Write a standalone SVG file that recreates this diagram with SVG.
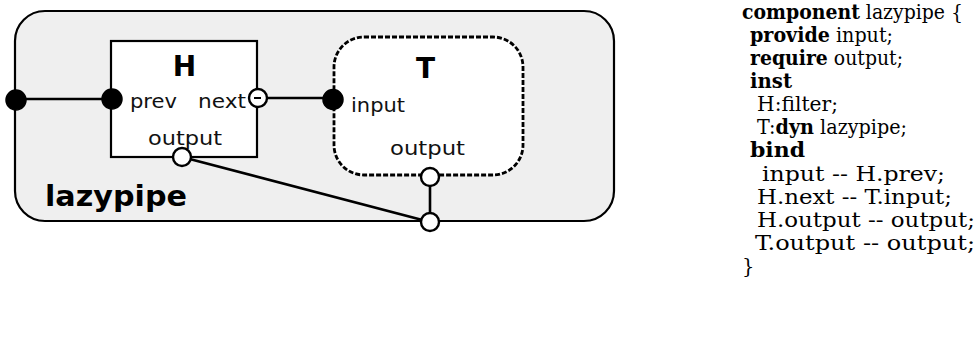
<svg xmlns="http://www.w3.org/2000/svg" width="979" height="353" viewBox="0 0 979 353">
  <style>
    .box { stroke: #000; stroke-width: 2.2; }
    .wire { stroke: #000; stroke-width: 2.6; fill: none; }
    .provided { fill: #000; stroke: #000; stroke-width: 1.5; }
    .required { fill: #fff; stroke: #000; stroke-width: 2.4; }
    .label { font-family: "DejaVu Sans", "Liberation Sans", sans-serif; font-size: 20px; fill: #111; }
    .title { font-family: "DejaVu Sans", "Liberation Sans", sans-serif; font-weight: bold; fill: #000; }
    .code { font-family: "DejaVu Serif", "Liberation Serif", serif; font-size: 19.5px; fill: #000; }
    .kw { font-weight: bold; }
  </style>

  <!-- composite component -->
  <g id="lazypipe">
    <rect class="box" x="15" y="11" width="599" height="210" rx="30" ry="30" fill="#efefef"/>
    <text class="title" x="45" y="206" font-size="29" textLength="142" lengthAdjust="spacingAndGlyphs">lazypipe</text>
  </g>

  <!-- filter instance -->
  <g id="H">
    <rect class="box" x="111" y="41" width="146" height="116" fill="#fff"/>
    <text class="title" x="184.5" y="75.5" font-size="28" text-anchor="middle">H</text>
    <text class="label" x="130" y="108" textLength="47" lengthAdjust="spacingAndGlyphs">prev</text>
    <text class="label" x="198" y="108" textLength="48" lengthAdjust="spacingAndGlyphs">next</text>
    <text class="label" x="148" y="145" textLength="74" lengthAdjust="spacingAndGlyphs">output</text>
  </g>

  <!-- dynamic lazypipe instance -->
  <g id="T">
    <rect x="334" y="37" width="189" height="138" rx="30" ry="30" fill="#fff" stroke="#000" stroke-width="2.8" stroke-dasharray="5 2"/>
    <text class="title" x="425.5" y="78" font-size="28" text-anchor="middle">T</text>
    <text class="label" x="351" y="112" textLength="54" lengthAdjust="spacingAndGlyphs">input</text>
    <text class="label" x="390" y="155" textLength="75" lengthAdjust="spacingAndGlyphs">output</text>
  </g>

  <!-- bindings -->
  <g id="connectors">
    <line class="wire" x1="16" y1="99" x2="112" y2="99"/>
    <line class="wire" x1="258" y1="98" x2="333" y2="98"/>
    <line class="wire" x1="182" y1="157" x2="430" y2="222"/>
    <line class="wire" x1="430" y1="177" x2="430" y2="222"/>
  </g>

  <!-- ports -->
  <g id="ports">
    <circle class="provided" cx="16" cy="100" r="10"/>
    <circle class="provided" cx="112" cy="99" r="10"/>
    <circle class="required" cx="258" cy="98" r="9"/>
    <line x1="254" y1="98" x2="261" y2="98" stroke="#000" stroke-width="2"/>
    <circle class="provided" cx="333" cy="99.5" r="10"/>
    <circle class="required" cx="182" cy="157" r="9"/>
    <circle class="required" cx="430" cy="177" r="9"/>
    <circle class="required" cx="430" cy="222" r="9"/>
  </g>

  <!-- textual description -->
  <g id="source">
    <text class="code" x="742" y="19" textLength="221" lengthAdjust="spacingAndGlyphs"><tspan class="kw">component</tspan> lazypipe {</text>
    <text class="code" x="750" y="42" textLength="143" lengthAdjust="spacingAndGlyphs"><tspan class="kw">provide</tspan> input;</text>
    <text class="code" x="750" y="65" textLength="153" lengthAdjust="spacingAndGlyphs"><tspan class="kw">require</tspan> output;</text>
    <text class="code kw" x="750" y="88" textLength="42" lengthAdjust="spacingAndGlyphs">inst</text>
    <text class="code" x="757" y="111" textLength="81" lengthAdjust="spacingAndGlyphs">H:filter;</text>
    <text class="code" x="757" y="134" textLength="150" lengthAdjust="spacingAndGlyphs">T:<tspan class="kw">dyn</tspan> lazypipe;</text>
    <text class="code kw" x="750" y="157" textLength="55" lengthAdjust="spacingAndGlyphs">bind</text>
    <text class="code" x="762" y="181" textLength="183" lengthAdjust="spacingAndGlyphs">input -- H.prev;</text>
    <text class="code" x="757" y="204" textLength="195" lengthAdjust="spacingAndGlyphs">H.next -- T.input;</text>
    <text class="code" x="757" y="227" textLength="218" lengthAdjust="spacingAndGlyphs">H.output -- output;</text>
    <text class="code" x="755" y="250" textLength="220" lengthAdjust="spacingAndGlyphs">T.output -- output;</text>
    <text class="code" x="742" y="273">}</text>
  </g>
</svg>
